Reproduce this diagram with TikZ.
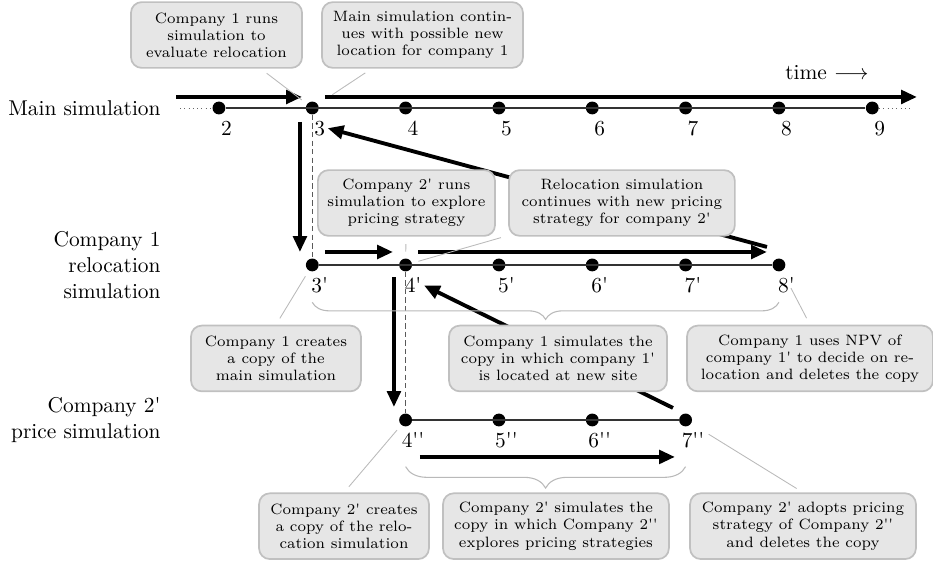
\documentclass[tikz,border=0pt]{standalone}
\usepackage{tikz}
\usetikzlibrary{arrows.meta,positioning,calc,decorations.pathreplacing}
\definecolor{noteFill}{RGB}{230,230,230}
\definecolor{noteLine}{RGB}{192,192,192}
\definecolor{pinGray}{RGB}{185,185,185}
\definecolor{dashGray}{RGB}{90,90,90}
\tikzset{
  notebox/.style={rounded corners=5pt, draw=noteLine, fill=noteFill, line width=0.8pt, align=center,
              minimum height=1.08cm, inner sep=2pt, font=\scriptsize},
  timedot/.style={circle, fill=black, inner sep=0pt, minimum size=6pt},
  ticklabel/.style={anchor=north, inner sep=1pt},
  rowlabel/.style={anchor=east, align=right, inner sep=0pt},
  timeline/.style={draw=black!80, line width=0.6pt},
  openend/.style={draw=black!60, line width=0.4pt, dash pattern=on 0.4pt off 1.6pt},
  flowarrow/.style={-{Triangle[length=2.6mm,width=2.2mm]}, line width=1.8pt},
  pinline/.style={draw=pinGray, line width=0.4pt, shorten <=3.5pt, shorten >=3pt},
  copyline/.style={draw=dashGray, dash pattern=on 2.5pt off 1.5pt, line width=0.5pt},
  bracedeco/.style={draw=pinGray, line width=0.5pt, decorate, decoration={brace, mirror, amplitude=#1}}
}
\newcommand{\sq}{\textquotesingle}

\begin{document}
\begin{tikzpicture}[x=1.533cm, y=1.533cm]
\useasboundingbox (-0.346,1.157) rectangle (9.651,-4.886);

% time points of the three runs
\foreach \k in {2,...,9} {
  \node[timedot] (m\k) at (\k,0) {};
  \node[ticklabel] (lm\k) at ($(m\k)+(0.08,-0.11)$) {\k};
}
\foreach \k in {3,...,8} {
  \node[timedot] (r\k) at (\k,-1.682) {};
  \node[ticklabel] (lr\k) at ($(r\k)+(0.08,-0.11)$) {\k\sq};
}
\foreach \k in {4,...,7} {
  \node[timedot] (p\k) at (\k,-3.343) {};
  \node[ticklabel] (lp\k) at ($(p\k)+(0.08,-0.11)$) {\k\sq\sq};
}
\draw[timeline] (m2) -- (m9);
\draw[openend] ($(m2)+(-0.417,0)$) -- (m2);
\draw[openend] (m9) -- ($(m9)+(0.425,0)$);
\draw[timeline] (r3) -- (r8);
\draw[timeline] (p4) -- (p7);
\draw[copyline] (m3) -- (r3);
\draw[copyline] (r4) -- (p4);

\node[rowlabel] (mainlab) at (1.379,0) {Main simulation};
\node[rowlabel] (reloclab) at (1.379,-1.682) {Company 1\\relocation\\simulation};
\node[rowlabel] (pricelab) at (1.379,-3.343) {Company 2\sq\\price simulation};
\node (timelab) at (8.515,0.375) {time $\longrightarrow$};

% flow of the simulations
\draw[flowarrow] ($(m2)+(-0.46,0.118)$) -- ($(m3)+(-0.11,0.118)$);
\draw[flowarrow] ($(m3)+(0.136,0.118)$) -- ($(m9)+(0.479,0.118)$);
\draw[flowarrow] ($(m3)+(-0.132,-0.15)$) -- ($(r3)+(-0.132,0.139)$);
\draw[flowarrow] ($(r3)+(0.136,0.139)$) -- ($(r4)+(-0.135,0.139)$);
\draw[flowarrow] ($(r4)+(0.133,0.139)$) -- ($(r8)+(-0.128,0.139)$);
\draw[flowarrow] ($(r4)+(-0.125,-0.129)$) -- ($(p4)+(-0.125,0.139)$);
\draw[flowarrow] ($(p4)+(0.154,-0.396)$) -- ($(p7)+(-0.114,-0.396)$);
\draw[flowarrow] ($(r8)+(-0.128,0.193)$) -- (lm3.east);
\draw[flowarrow] ($(p7)+(-0.135,0.129)$) -- (lr4.east);

% notes
\node[notebox, minimum width=2.81cm] (evalnote) at (1.974,0.782)
  {Company 1 runs\\simulation to\\evaluate relocation};
\node[notebox, minimum width=3.30cm] (contnote) at (4.181,0.782)
  {Main simulation contin-\\ues with possible new\\location for company 1};
\node[notebox, minimum width=2.91cm] (pricenote) at (4.009,-1.018)
  {Company 2\sq{} runs\\simulation to explore\\pricing strategy};
\node[notebox, minimum width=3.71cm] (relocnote) at (6.318,-1.018)
  {Relocation simulation\\continues with new pricing\\strategy for company 2\sq};
\node[notebox, minimum width=2.79cm] (copynote) at (2.611,-2.684)
  {Company 1 creates\\a copy of the\\main simulation};
\node[notebox, minimum width=3.58cm] (simnote) at (5.633,-2.684)
  {Company 1 simulates the\\copy in which company 1\sq\\is located at new site};
\node[notebox, minimum width=4.04cm] (npvnote) at (8.333,-2.684)
  {Company 1 uses NPV of\\company 1\sq{} to decide on re-\\location and deletes the copy};
\node[notebox, minimum width=2.79cm] (copytwonote) at (3.340,-4.481)
  {Company 2\sq{} creates\\a copy of the relo-\\cation simulation};
\node[notebox, minimum width=3.71cm] (simtwonote) at (5.611,-4.481)
  {Company 2\sq{} simulates the\\copy in which Company 2\sq\sq\\explores pricing strategies};
\node[notebox, minimum width=3.71cm] (adoptnote) at (8.258,-4.481)
  {Company 2\sq{} adopts pricing\\strategy of Company 2\sq\sq\\and deletes the copy};

\draw[pinline] (evalnote) -- (m3);
\draw[pinline, shorten >=8pt] (contnote) -- (m3);
\draw[pinline] (pricenote) -- (r4);
\draw[pinline] (relocnote) -- (r4);
\draw[pinline] (copynote.north) -- (r3);
\draw[pinline, shorten >=9pt] (npvnote.north) -- (r8);
\draw[pinline] (copytwonote.north) -- (p4);
\draw[pinline, shorten >=9.5pt] (adoptnote.north) -- (p7);
\draw[bracedeco=8pt] ($(r3)+(0,-0.4)$) -- ($(r8)+(0,-0.4)$);
\draw[bracedeco=10pt] ($(p4)+(0,-0.5)$) -- ($(p7)+(0,-0.5)$);
\end{tikzpicture}
\end{document}
